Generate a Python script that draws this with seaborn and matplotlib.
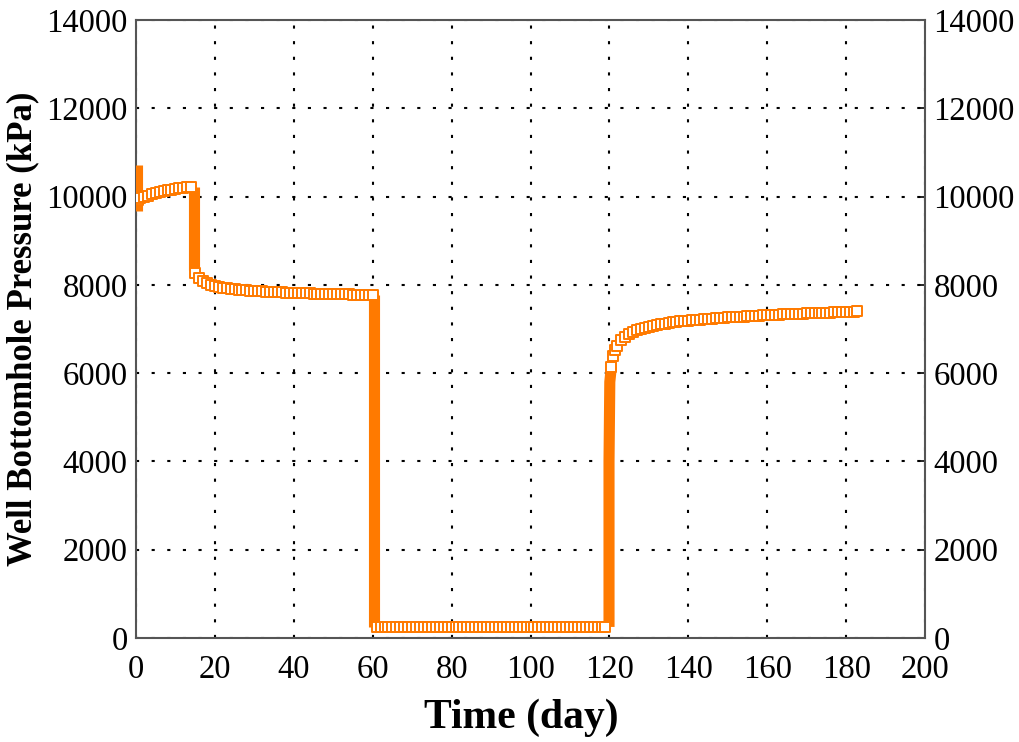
import matplotlib
matplotlib.use("Agg")
import matplotlib.pyplot as plt
import seaborn as sns
import pandas as pd

# ---- data ----
time_days = [0.6, 1, 2, 3, 4, 5, 6, 7, 8, 9, 10, 11, 12, 13, 14,
             15, 16, 17, 18, 19, 20, 21, 22, 23, 24, 25, 26, 27, 28, 29, 30,
             31, 32, 33, 34, 35, 36, 37, 38, 39, 40, 41, 42, 43, 44, 45,
             46, 47, 48, 49, 50, 51, 52, 53, 54, 55, 56, 57, 58, 59, 60,
             61, 62, 63, 64, 65, 66, 67, 68, 69, 70, 71, 72, 73, 74, 75,
             76, 77, 78, 79, 80, 81, 82, 83, 84, 85, 86, 87, 88, 89, 90,
             91, 92, 93, 94, 95, 96, 97, 98, 99, 100, 101, 102, 103, 104, 105,
             106, 107, 108, 109, 110, 111, 112, 113, 114, 115, 116, 117, 118, 119,
             120.5, 121, 121.5, 122, 123, 124, 125, 126, 127, 128, 129, 130,
             131, 132, 133, 134, 135, 136, 137, 138, 139, 140, 141, 142, 143, 144, 145,
             146, 147, 148, 149, 150, 151, 152, 153, 154, 155, 156, 157, 158, 159, 160,
             161, 162, 163, 164, 165, 166, 167, 168, 169, 170, 171, 172, 173, 174, 175,
             176, 177, 178, 179, 180, 181, 182, 182.8]
pressure_kpa = [9920, 9960, 9990, 10020, 10050, 10080, 10100, 10120, 10140, 10160, 10175, 10190, 10200, 10210, 10215,
                8280, 8160, 8090, 8040, 8000, 7970, 7950, 7935, 7920, 7910, 7900, 7890, 7882, 7875, 7868, 7862,
                7856, 7850, 7845, 7840, 7836, 7832, 7828, 7824, 7820, 7817, 7814, 7811, 7808, 7805, 7802,
                7800, 7797, 7795, 7792, 7790, 7788, 7786, 7784, 7782, 7780, 7778, 7776, 7774, 7772, 7770,
                250, 250, 250, 250, 250, 250, 250, 250, 250, 250, 250, 250, 250, 250, 250,
                250, 250, 250, 250, 250, 250, 250, 250, 250, 250, 250, 250, 250, 250, 250,
                250, 250, 250, 250, 250, 250, 250, 250, 250, 250, 250, 250, 250, 250, 250,
                250, 250, 250, 250, 250, 250, 250, 250, 250, 250, 250, 250, 250, 250,
                6150, 6380, 6520, 6620, 6740, 6820, 6880, 6930, 6970, 7000, 7030, 7050,
                7070, 7090, 7105, 7120, 7135, 7148, 7160, 7170, 7180, 7190, 7198, 7206, 7214, 7222, 7230,
                7237, 7244, 7250, 7256, 7262, 7268, 7273, 7278, 7283, 7288, 7293, 7298, 7302, 7306, 7310,
                7318, 7322, 7326, 7330, 7334, 7338, 7342, 7346, 7350, 7354, 7358, 7361, 7364, 7367, 7370,
                7373, 7376, 7379, 7382, 7385, 7388, 7391, 7400]

# steep transients (drawn as a dense band)
startup_t = [0.3, 0.3]
startup_p = [10720, 9680]
drop1_t = [14.6, 14.6]
drop1_p = [10210, 8330]
drop2_t = [60.4, 60.4]
drop2_p = [7770, 250]
rise_t = [119.9, 119.9, 120.1, 120.5]
rise_p = [250, 4000, 5800, 6150]

x_ticks = [0, 20, 40, 60, 80, 100, 120, 140, 160, 180, 200]
y_ticks = [0, 2000, 4000, 6000, 8000, 10000, 12000, 14000]

orange = "#FF7A00"

sns.set_style("white")
plt.rcParams["font.family"] = ["Liberation Serif", "DejaVu Serif"]
plt.rcParams["text.color"] = "black"
plt.rcParams["axes.labelcolor"] = "black"
plt.rcParams["xtick.color"] = "black"
plt.rcParams["ytick.color"] = "black"

fig = plt.figure(figsize=(10.2, 7.42), dpi=100)
ax = fig.add_axes([0.1333, 0.1402, 0.7736, 0.8328])

for tt, pp in [(startup_t, startup_p), (drop1_t, drop1_p), (drop2_t, drop2_p), (rise_t, rise_p)]:
    seg = pd.DataFrame({"t": tt, "p": pp})
    sns.lineplot(data=seg, x="t", y="p", ax=ax, color=orange, linewidth=8,
                 estimator=None, sort=False, solid_capstyle="butt", zorder=3)

df = pd.DataFrame({"t": time_days, "p": pressure_kpa})
sns.scatterplot(data=df, x="t", y="p", ax=ax, marker="s", s=58,
                facecolor="white", edgecolor=orange, linewidth=1.4, zorder=4)

ax.set_xlim(0, 200)
ax.set_ylim(0, 14000)
ax.set_xticks(x_ticks)
ax.set_yticks(y_ticks)
ax.grid(True, color="black", linestyle=(0, (1.5, 6)), linewidth=1.5)
ax.set_axisbelow(True)

ax.tick_params(axis="both", which="both", direction="in", length=5, width=1.2,
               labelsize=23.5, right=True, labelright=True, top=False, pad=6,
               colors="black")
ax.tick_params(axis="x", pad=12)
for s in ax.spines.values():
    s.set_color("#555555")
    s.set_linewidth(1.5)

ax.set_xlabel("Time (day)", fontsize=30, fontweight="bold", color="black")
ax.xaxis.set_label_coords(0.488, -0.098)
ax.set_ylabel("Well Bottomhole Pressure (kPa)", fontsize=25, fontweight="bold",
              labelpad=5, color="black")

fig.savefig("out.png", dpi=100)
